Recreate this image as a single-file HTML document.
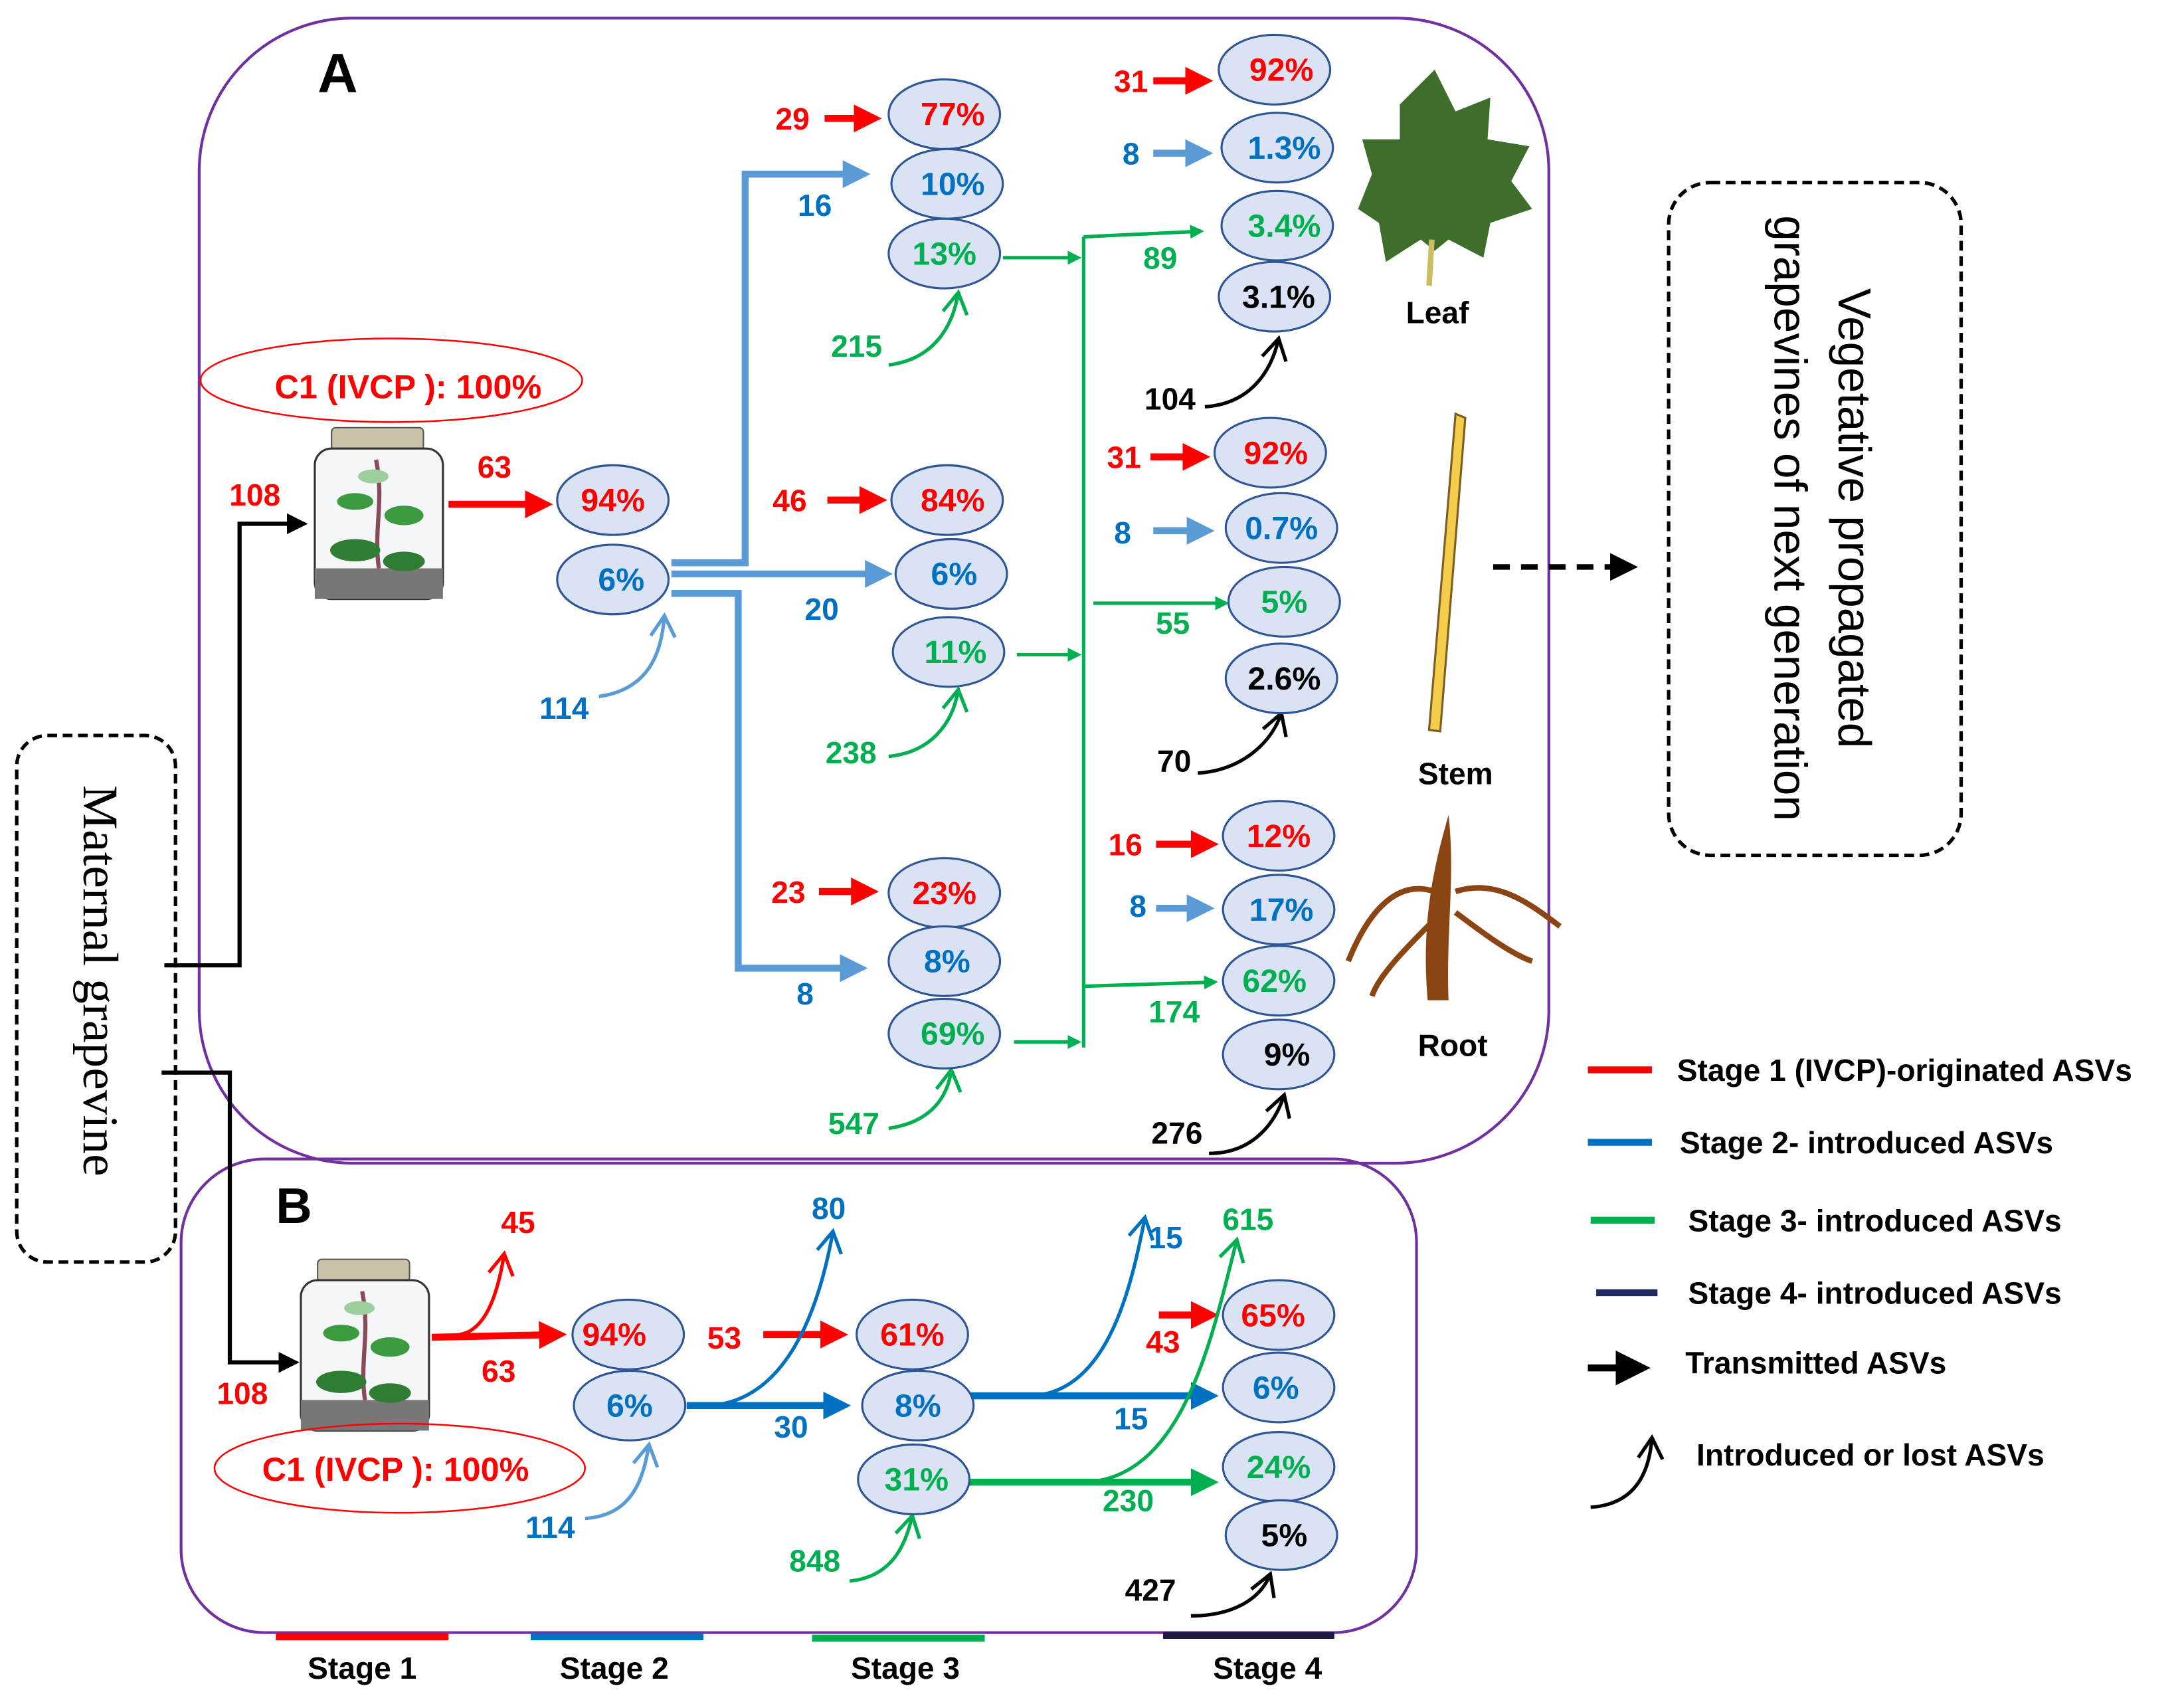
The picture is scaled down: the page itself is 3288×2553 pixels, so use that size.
<!DOCTYPE html>
<html><head><meta charset="utf-8"><style>html,body{margin:0;padding:0;background:#fff}svg{display:block}</style></head>
<body>
<svg width="3288" height="2553" viewBox="0 0 1568 1217.5" xmlns="http://www.w3.org/2000/svg" font-family="Liberation Sans, sans-serif" font-weight="bold">
<defs>
<marker id="ar" markerWidth="4" markerHeight="4" refX="3" refY="2" orient="auto" markerUnits="strokeWidth"><path d="M0,0L4,2L0,4z" fill="#ff0000"/></marker>
<marker id="ab" markerWidth="4" markerHeight="4" refX="3" refY="2" orient="auto" markerUnits="strokeWidth"><path d="M0,0L4,2L0,4z" fill="#5b9bd5"/></marker>
<marker id="ad" markerWidth="4" markerHeight="4" refX="3" refY="2" orient="auto" markerUnits="strokeWidth"><path d="M0,0L4,2L0,4z" fill="#0070c0"/></marker>
<marker id="ag" markerWidth="4" markerHeight="4" refX="3" refY="2" orient="auto" markerUnits="strokeWidth"><path d="M0,0L4,2L0,4z" fill="#00b050"/></marker>
<marker id="ak" markerWidth="5" markerHeight="5" refX="4" refY="2.5" orient="auto" markerUnits="strokeWidth"><path d="M0,0L5,2.5L0,5z" fill="#000"/></marker>
<marker id="ocg" markerWidth="8" markerHeight="8" refX="7" refY="4" orient="auto" markerUnits="strokeWidth"><path d="M1,0.5L7,4L1,7.5" fill="none" stroke="#00b050" stroke-width="1"/></marker>
<marker id="ocb" markerWidth="8" markerHeight="8" refX="7" refY="4" orient="auto" markerUnits="strokeWidth"><path d="M1,0.5L7,4L1,7.5" fill="none" stroke="#5b9bd5" stroke-width="1"/></marker>
<marker id="ocd" markerWidth="8" markerHeight="8" refX="7" refY="4" orient="auto" markerUnits="strokeWidth"><path d="M1,0.5L7,4L1,7.5" fill="none" stroke="#0070c0" stroke-width="1"/></marker>
<marker id="ocr" markerWidth="8" markerHeight="8" refX="7" refY="4" orient="auto" markerUnits="strokeWidth"><path d="M1,0.5L7,4L1,7.5" fill="none" stroke="#ff0000" stroke-width="1"/></marker>
<marker id="ock" markerWidth="8" markerHeight="8" refX="7" refY="4" orient="auto" markerUnits="strokeWidth"><path d="M1,0.5L7,4L1,7.5" fill="none" stroke="#000" stroke-width="1"/></marker>
</defs>

<rect x="143" y="13" width="969" height="822" rx="110" fill="none" stroke="#7030a0" stroke-width="2"/>
<rect x="130" y="832" width="887" height="340" rx="60" fill="none" stroke="#7030a0" stroke-width="2"/>
<rect x="12" y="528" width="114" height="378" rx="22" fill="#fff" stroke="#000" stroke-width="2.5" stroke-dasharray="7,4"/>
<text transform="translate(60,704) rotate(90)" text-anchor="middle" font-family="Liberation Serif, serif" font-weight="normal" font-size="36">Maternal  grapevine</text>
<rect x="1198" y="131" width="210" height="483" rx="30" fill="none" stroke="#000" stroke-width="2.5" stroke-dasharray="7,4"/>
<text transform="translate(1320,372) rotate(90)" text-anchor="middle" font-weight="normal" font-size="33">Vegetative propagated</text>
<text transform="translate(1274,372) rotate(90)" text-anchor="middle" font-weight="normal" font-size="33">grapevines of next generation</text>
<line x1="1072" y1="407" x2="1172" y2="407" stroke="#000" stroke-width="4" stroke-dasharray="12,8" marker-end="url(#ak)"/>

<text x="228" y="66" font-size="40">A</text>
<text x="198" y="878" font-size="36">B</text>

<g id="jarA">
<rect x="238" y="307" width="66" height="16" rx="3" fill="#c9c2a8" stroke="#555"/>
<rect x="226" y="322" width="92" height="108" rx="12" fill="#f4f6f8" stroke="#333" stroke-width="1.5"/>
<rect x="226" y="408" width="92" height="22" fill="#777"/>
<path d="M272,408 C268,380 276,360 270,330" stroke="#8b4a5a" stroke-width="3" fill="none"/>
<ellipse cx="255" cy="395" rx="18" ry="8" fill="#2e7d32"/><ellipse cx="290" cy="403" rx="15" ry="7" fill="#2e7d32"/>
<ellipse cx="290" cy="370" rx="14" ry="7" fill="#3c9a40"/><ellipse cx="255" cy="360" rx="13" ry="6" fill="#3c9a40"/>
<ellipse cx="268" cy="342" rx="11" ry="5" fill="#9ccf9c"/>
</g>
<use href="#jarA" x="-10" y="597"/>

<polyline points="118,693 172,693 172,376 218,376" fill="none" stroke="#000" stroke-width="3" marker-end="url(#ak)"/>
<polyline points="116,770 165,770 165,978 212,978" fill="none" stroke="#000" stroke-width="3" marker-end="url(#ak)"/>

<ellipse cx="281" cy="273" rx="137" ry="30" fill="none" stroke="#ff0000" stroke-width="1.2"/>
<text x="293" y="286" text-anchor="middle" font-size="24" fill="#ff0000">C1 (IVCP ): 100%</text>
<ellipse cx="287" cy="1054" rx="133" ry="32" fill="none" stroke="#ff0000" stroke-width="1.2"/>
<text x="284" y="1063" text-anchor="middle" font-size="24" fill="#ff0000">C1 (IVCP ): 100%</text>

<g stroke-width="5" fill="none">
<line x1="322" y1="362" x2="392" y2="362" stroke="#ff0000" marker-end="url(#ar)"/>
<polyline points="482,404 535,404 535,125 620,125" stroke="#5b9bd5" marker-end="url(#ab)"/>
<line x1="482" y1="412" x2="636" y2="412" stroke="#5b9bd5" marker-end="url(#ab)"/>
<polyline points="482,426 530,426 530,695 618,695" stroke="#5b9bd5" marker-end="url(#ab)"/>
<line x1="592" y1="85" x2="628" y2="85" stroke="#ff0000" marker-end="url(#ar)"/>
<line x1="594" y1="359" x2="632" y2="359" stroke="#ff0000" marker-end="url(#ar)"/>
<line x1="588" y1="640" x2="626" y2="640" stroke="#ff0000" marker-end="url(#ar)"/>
<line x1="828" y1="58" x2="866" y2="58" stroke="#ff0000" marker-end="url(#ar)"/>
<line x1="828" y1="110" x2="866" y2="110" stroke="#5b9bd5" marker-end="url(#ab)"/>
<line x1="826" y1="328" x2="864" y2="328" stroke="#ff0000" marker-end="url(#ar)"/>
<line x1="828" y1="381" x2="867" y2="381" stroke="#5b9bd5" marker-end="url(#ab)"/>
<line x1="830" y1="606" x2="870" y2="606" stroke="#ff0000" marker-end="url(#ar)"/>
<line x1="830" y1="652" x2="867" y2="652" stroke="#5b9bd5" marker-end="url(#ab)"/>
</g>
<g stroke="#00b050" stroke-width="2.5" fill="none">
<line x1="720" y1="185" x2="774" y2="185" marker-end="url(#ag)"/>
<line x1="730" y1="470" x2="774" y2="470" marker-end="url(#ag)"/>
<line x1="728" y1="748" x2="774" y2="748" marker-end="url(#ag)"/>
<line x1="778" y1="170" x2="778" y2="752"/>
<polyline points="778,170 862,166" marker-end="url(#ag)"/>
<line x1="785" y1="433" x2="880" y2="433" marker-end="url(#ag)"/>
<polyline points="778,708 872,705" marker-end="url(#ag)"/>
</g>
<g stroke-width="2.5" fill="none">
<path d="M430,500 C465,495 475,470 477,442" stroke="#5b9bd5" marker-end="url(#ocb)"/>
<path d="M638,262 C670,258 684,235 688,210" stroke="#00b050" marker-end="url(#ocg)"/>
<path d="M638,543 C668,540 684,520 688,495" stroke="#00b050" marker-end="url(#ocg)"/>
<path d="M638,810 C666,806 680,790 683,768" stroke="#00b050" marker-end="url(#ocg)"/>
<path d="M865,292 C895,290 912,270 918,243" stroke="#000" marker-end="url(#ock)"/>
<path d="M860,555 C890,553 912,535 920,512" stroke="#000" marker-end="url(#ock)"/>
<path d="M868,828 C898,828 915,808 922,786" stroke="#000" marker-end="url(#ock)"/>
</g>

<g stroke-width="5" fill="none">
<line x1="310" y1="960" x2="402" y2="958" stroke="#ff0000" marker-end="url(#ar)"/>
<line x1="548" y1="958" x2="604" y2="958" stroke="#ff0000" marker-end="url(#ar)"/>
<line x1="493" y1="1009" x2="606" y2="1009" stroke="#0070c0" marker-end="url(#ad)"/>
<line x1="697" y1="1002" x2="870" y2="1002" stroke="#0070c0" marker-end="url(#ad)"/>
<line x1="695" y1="1064" x2="870" y2="1064" stroke="#00b050" marker-end="url(#ag)"/>
<line x1="832" y1="944" x2="870" y2="944" stroke="#ff0000" marker-end="url(#ar)"/>
</g>
<g stroke-width="2.5" fill="none">
<path d="M330,958 C350,955 358,925 362,900" stroke="#ff0000" marker-end="url(#ocr)"/>
<path d="M510,1009 C565,1005 588,940 598,884" stroke="#0070c0" marker-end="url(#ocd)"/>
<path d="M740,1002 C795,1000 812,925 822,874" stroke="#0070c0" marker-end="url(#ocd)"/>
<path d="M780,1064 C850,1060 870,960 888,890" stroke="#00b050" marker-end="url(#ocg)"/>
<path d="M420,1090 C455,1088 462,1060 466,1037" stroke="#5b9bd5" marker-end="url(#ocb)"/>
<path d="M610,1135 C640,1132 650,1110 655,1088" stroke="#00b050" marker-end="url(#ocg)"/>
<path d="M855,1160 C885,1160 905,1148 912,1130" stroke="#000" marker-end="url(#ock)"/>
</g>

<g fill="#dae3f3" stroke="#2f5597" stroke-width="1.5">
<ellipse cx="440" cy="359" rx="40" ry="25"/><ellipse cx="440" cy="416" rx="40" ry="25"/>
<ellipse cx="678" cy="82" rx="40" ry="25"/><ellipse cx="680" cy="132" rx="40" ry="25"/><ellipse cx="678" cy="182" rx="40" ry="25"/>
<ellipse cx="680" cy="359" rx="40" ry="25"/><ellipse cx="683" cy="412" rx="40" ry="25"/><ellipse cx="681" cy="468" rx="40" ry="25"/>
<ellipse cx="678" cy="641" rx="40" ry="25"/><ellipse cx="678" cy="690" rx="40" ry="25"/><ellipse cx="678" cy="742" rx="40" ry="25"/>
<ellipse cx="915" cy="50" rx="40" ry="25"/><ellipse cx="917" cy="106" rx="40" ry="25"/><ellipse cx="917" cy="162" rx="40" ry="25"/><ellipse cx="915" cy="213" rx="40" ry="25"/>
<ellipse cx="912" cy="325" rx="40" ry="25"/><ellipse cx="920" cy="379" rx="40" ry="25"/><ellipse cx="922" cy="432" rx="40" ry="25"/><ellipse cx="920" cy="487" rx="40" ry="25"/>
<ellipse cx="918" cy="600" rx="40" ry="25"/><ellipse cx="918" cy="653" rx="40" ry="25"/><ellipse cx="918" cy="704" rx="40" ry="25"/><ellipse cx="918" cy="757" rx="40" ry="25"/>
<ellipse cx="451" cy="958" rx="40" ry="25"/><ellipse cx="452" cy="1009" rx="40" ry="25"/>
<ellipse cx="655" cy="958" rx="40" ry="25"/><ellipse cx="659" cy="1009" rx="40" ry="25"/><ellipse cx="656" cy="1062" rx="40" ry="25"/>
<ellipse cx="918" cy="944" rx="40" ry="25"/><ellipse cx="918" cy="996" rx="40" ry="25"/><ellipse cx="918" cy="1053" rx="40" ry="25"/><ellipse cx="920" cy="1102" rx="40" ry="25"/>
</g>
<g font-size="23" text-anchor="middle">
<g fill="#ff0000">
<text x="440" y="367">94%</text><text x="684" y="90">77%</text><text x="684" y="367">84%</text><text x="678" y="649">23%</text>
<text x="920" y="58">92%</text><text x="916" y="333">92%</text><text x="918" y="608">12%</text>
<text x="441" y="966">94%</text><text x="655" y="966">61%</text><text x="914" y="952">65%</text>
</g>
<g fill="#0070c0">
<text x="446" y="424">6%</text><text x="684" y="140">10%</text><text x="685" y="420">6%</text><text x="680" y="698">8%</text>
<text x="922" y="114">1.3%</text><text x="920" y="387">0.7%</text><text x="920" y="661">17%</text>
<text x="452" y="1017">6%</text><text x="659" y="1017">8%</text><text x="916" y="1004">6%</text>
</g>
<g fill="#00b050">
<text x="678" y="190">13%</text><text x="686" y="476">11%</text><text x="684" y="750">69%</text>
<text x="922" y="170">3.4%</text><text x="922" y="440">5%</text><text x="915" y="712">62%</text>
<text x="658" y="1070">31%</text><text x="918" y="1061">24%</text>
</g>
<g fill="#000">
<text x="918" y="221">3.1%</text><text x="922" y="495">2.6%</text><text x="924" y="765">9%</text><text x="922" y="1110">5%</text>
</g>
</g>

<g font-size="22" text-anchor="middle">
<g fill="#ff0000">
<text x="183" y="363">108</text><text x="355" y="343">63</text><text x="569" y="93">29</text><text x="567" y="367">46</text><text x="566" y="648">23</text>
<text x="812" y="66">31</text><text x="807" y="336">31</text><text x="808" y="614">16</text>
<text x="174" y="1008">108</text><text x="358" y="992">63</text><text x="372" y="885">45</text><text x="520" y="968">53</text><text x="835" y="971">43</text>
</g>
<g fill="#0070c0">
<text x="585" y="155">16</text><text x="590" y="445">20</text><text x="578" y="721">8</text><text x="405" y="516">114</text>
<text x="812" y="118">8</text><text x="806" y="390">8</text><text x="817" y="658">8</text>
<text x="595" y="875">80</text><text x="568" y="1032">30</text><text x="812" y="1026">15</text><text x="837" y="896">15</text><text x="395" y="1104">114</text>
</g>
<g fill="#00b050">
<text x="615" y="256">215</text><text x="611" y="548">238</text><text x="613" y="814">547</text>
<text x="833" y="193">89</text><text x="842" y="455">55</text><text x="843" y="734">174</text>
<text x="810" y="1085">230</text><text x="896" y="883">615</text><text x="585" y="1128">848</text>
</g>
<g fill="#000">
<text x="840" y="294">104</text><text x="843" y="554">70</text><text x="845" y="821">276</text><text x="826" y="1149">427</text>
</g>
</g>

<path d="M1030,50 L1045,80 L1070,70 L1068,100 L1098,105 L1085,130 L1100,150 L1070,160 L1065,185 L1040,172 L1030,180 L1020,172 L995,188 L990,160 L975,150 L985,125 L978,100 L1005,100 L1005,75 Z" fill="#3f6e2c"/>
<line x1="1028" y1="172" x2="1026" y2="205" stroke="#c8c060" stroke-width="4"/>
<path d="M1045,297 L1052,300 L1034,525 L1026,524 Z" fill="#f5cd4c" stroke="#7a6020" stroke-width="1.5"/>
<path d="M1040,585 C1030,620 1020,660 1025,718 L1040,718 C1038,670 1045,630 1040,585 Z" fill="#8b4513"/>
<path d="M1030,640 C1000,630 980,660 968,690 M1045,640 C1075,630 1100,650 1120,665 M1030,660 C1010,680 990,700 985,715 M1045,655 C1065,670 1085,685 1100,690" stroke="#8b4513" stroke-width="4" fill="none"/>
<text x="1032" y="232" font-size="22" text-anchor="middle">Leaf</text>
<text x="1045" y="563" font-size="22" text-anchor="middle">Stem</text>
<text x="1043" y="758" font-size="22" text-anchor="middle">Root</text>

<line x1="1140" y1="768" x2="1186" y2="768" stroke="#ff0000" stroke-width="5"/>
<line x1="1140" y1="820" x2="1186" y2="820" stroke="#0070c0" stroke-width="5"/>
<line x1="1142" y1="876" x2="1188" y2="876" stroke="#00b050" stroke-width="5"/>
<line x1="1146" y1="928" x2="1190" y2="928" stroke="#1f2a60" stroke-width="5"/>
<line x1="1140" y1="982" x2="1180" y2="982" stroke="#000" stroke-width="5" marker-end="url(#ak)"/>
<path d="M1142,1082 C1172,1080 1184,1060 1186,1032" stroke="#000" stroke-width="2.5" fill="none" marker-end="url(#ock)"/>
<g font-size="22">
<text x="1204" y="776">Stage 1 (IVCP)-originated ASVs</text>
<text x="1206" y="828">Stage 2- introduced  ASVs</text>
<text x="1212" y="884">Stage 3- introduced  ASVs</text>
<text x="1212" y="936">Stage 4- introduced  ASVs</text>
<text x="1210" y="986">Transmitted ASVs</text>
<text x="1218" y="1052">Introduced or lost  ASVs</text>
</g>

<line x1="198" y1="1175" x2="322" y2="1175" stroke="#ff0000" stroke-width="5"/>
<line x1="381" y1="1175" x2="505" y2="1175" stroke="#0070c0" stroke-width="5"/>
<line x1="583" y1="1176" x2="707" y2="1176" stroke="#00b050" stroke-width="5"/>
<line x1="835" y1="1174" x2="958" y2="1174" stroke="#1f1a40" stroke-width="5"/>
<g font-size="22" text-anchor="middle">
<text x="260" y="1205">Stage 1</text><text x="441" y="1205">Stage 2</text><text x="650" y="1205">Stage 3</text><text x="910" y="1205">Stage 4</text>
</g>
</svg>
</body></html>
